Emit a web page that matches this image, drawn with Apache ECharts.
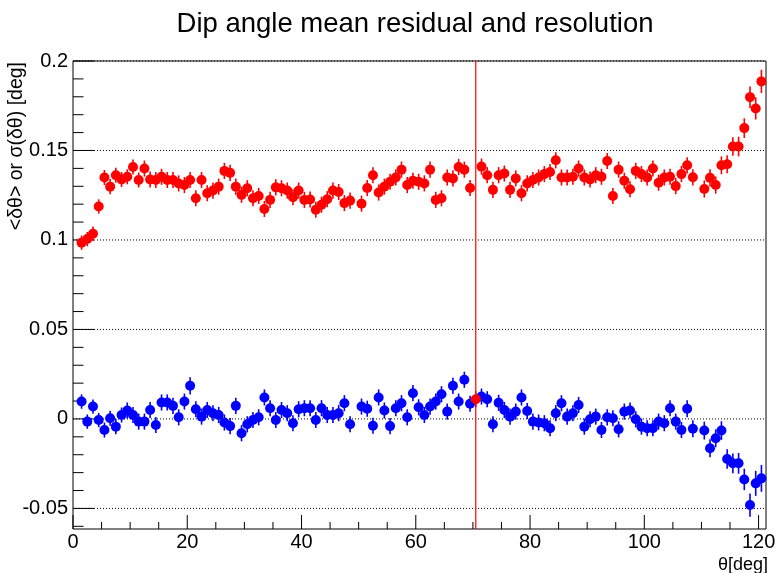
<!DOCTYPE html>
<html>
<head>
<meta charset="utf-8">
<script src="https://cdn.jsdelivr.net/npm/echarts@6/dist/echarts.min.js"></script>
<style>
  html, body { margin: 0; padding: 0; background: #ffffff; }
  #chart { width: 775px; height: 573px; }
</style>
</head>
<body>
<div id="chart"></div>
<script>
// Bin centres of the dip angle, in degrees
const theta = [
  1.5, 2.5, 3.5, 4.5, 5.5, 6.5, 7.5, 8.5, 9.5, 10.5,
  11.5, 12.5, 13.5, 14.5, 15.5, 16.5, 17.5, 18.5, 19.5, 20.5,
  21.5, 22.5, 23.5, 24.5, 25.5, 26.5, 27.5, 28.5, 29.5, 30.5,
  31.5, 32.5, 33.5, 34.5, 35.5, 36.5, 37.5, 38.5, 39.5, 40.5,
  41.5, 42.5, 43.5, 44.5, 45.5, 46.5, 47.5, 48.5, 49.5, 50.5,
  51.5, 52.5, 53.5, 54.5, 55.5, 56.5, 57.5, 58.5, 59.5, 60.5,
  61.5, 62.5, 63.5, 64.5, 65.5, 66.5, 67.5, 68.5, 69.5, 70.5,
  71.5, 72.5, 73.5, 74.5, 75.5, 76.5, 77.5, 78.5, 79.5, 80.5,
  81.5, 82.5, 83.5, 84.5, 85.5, 86.5, 87.5, 88.5, 89.5, 90.5,
  91.5, 92.5, 93.5, 94.5, 95.5, 96.5, 97.5, 98.5, 99.5, 100.5,
  101.5, 102.5, 103.5, 104.5, 105.5, 106.5, 107.5, 108.5, 109.5, 110.5,
  111.5, 112.5, 113.5, 114.5, 115.5, 116.5, 117.5, 118.5, 119.5, 120.5
];

// Mean residual <dθ> per bin (null = empty bin)
const meanRes = [
  0.0097, -0.0015, 0.0069, -0.0006, -0.0062, 0.0004, -0.0043, 0.0022, 0.0047, 0.0022,
  -0.0015, -0.0015, 0.0050, -0.0034, 0.0092, 0.0092, 0.0073, 0.0009, 0.0097, 0.0185,
  0.0054, 0.0013, 0.0050, 0.0032, 0.0022, -0.0020, -0.0040, 0.0073, -0.0080, -0.0030,
  -0.0006, 0.0009, 0.0120, 0.0060, -0.0006, 0.0050, 0.0032, -0.0024, 0.0054, 0.0060,
  0.0060, -0.0006, 0.0060, 0.0022, 0.0022, 0.0032, 0.0088, -0.0030, null, 0.0069,
  0.0057, -0.0038, 0.0120, 0.0047, -0.0040, 0.0060, 0.0088, 0.0009, 0.0144, 0.0065,
  0.0022, 0.0069, 0.0097, 0.0138, 0.0041, 0.0185, 0.0097, 0.0219, 0.0085, null,
  0.0125, 0.0110, -0.0030, 0.0090, 0.0050, 0.0013, 0.0041, 0.0120, 0.0044, -0.0015,
  -0.0020, -0.0024, -0.0052, 0.0032, 0.0088, 0.0013, 0.0032, 0.0078, -0.0043, -0.0002,
  0.0013, -0.0062, 0.0009, 0.0004, -0.0058, 0.0041, 0.0047, -0.0002, -0.0043, -0.0052,
  -0.0052, -0.0015, -0.0024, 0.0060, -0.0015, -0.0062, 0.0057, -0.0055, null, -0.0065,
  -0.0164, -0.0108, -0.0065, -0.0224, -0.0248, -0.0248, -0.0338, -0.0481, -0.0360, -0.0332
];
const meanErr = [
  0.0040, 0.0040, 0.0040, 0.0040, 0.0042, 0.0042, 0.0042, 0.0042, 0.0045, 0.0045,
  0.0045, 0.0045, 0.0045, 0.0045, 0.0045, 0.0045, 0.0045, 0.0045, 0.0045, 0.0048,
  0.0045, 0.0045, 0.0045, 0.0045, 0.0045, 0.0045, 0.0045, 0.0045, 0.0045, 0.0045,
  0.0045, 0.0045, 0.0045, 0.0045, 0.0045, 0.0045, 0.0045, 0.0045, 0.0045, 0.0045,
  0.0045, 0.0045, 0.0045, 0.0045, 0.0045, 0.0045, 0.0045, 0.0045, 0.0045, 0.0045,
  0.0045, 0.0045, 0.0045, 0.0045, 0.0045, 0.0045, 0.0045, 0.0045, 0.0045, 0.0045,
  0.0045, 0.0045, 0.0045, 0.0045, 0.0045, 0.0045, 0.0045, 0.0045, 0.0045, 0.0045,
  0.0045, 0.0045, 0.0045, 0.0045, 0.0045, 0.0045, 0.0045, 0.0045, 0.0045, 0.0045,
  0.0045, 0.0045, 0.0045, 0.0045, 0.0045, 0.0045, 0.0045, 0.0045, 0.0045, 0.0045,
  0.0045, 0.0045, 0.0045, 0.0045, 0.0045, 0.0045, 0.0045, 0.0045, 0.0045, 0.0045,
  0.0045, 0.0045, 0.0045, 0.0045, 0.0045, 0.0045, 0.0048, 0.0048, 0.0048, 0.0050,
  0.0050, 0.0050, 0.0052, 0.0055, 0.0055, 0.0058, 0.0060, 0.0065, 0.0070, 0.0075
];

// Resolution sigma(dθ) per bin (null = empty bin)
const sigmaRes = [
  0.0985, 0.1005, 0.1035, 0.1187, 0.1349, 0.1298, 0.1362, 0.1338, 0.1353, 0.1408,
  0.1335, 0.1399, 0.1338, 0.1335, 0.1353, 0.1335, 0.1335, 0.1316, 0.1307, 0.1335,
  0.1233, 0.1335, 0.1261, 0.1276, 0.1298, 0.1386, 0.1375, 0.1298, 0.1252, 0.1289,
  0.1233, 0.1246, 0.1173, 0.1224, 0.1294, 0.1289, 0.1276, 0.1239, 0.1276, 0.1224,
  0.1226, 0.1169, 0.1197, 0.1228, 0.1276, 0.1268, 0.1206, 0.1220, null, 0.1203,
  0.1290, 0.1362, 0.1265, 0.1298, 0.1325, 0.1349, 0.1393, 0.1307, 0.1331, 0.1325,
  0.1316, 0.1393, 0.1224, 0.1233, 0.1349, 0.1344, 0.1408, 0.1393, 0.1290, null,
  0.1410, 0.1362, 0.1280, 0.1362, 0.1371, 0.1280, 0.1344, 0.1261, 0.1316, 0.1335,
  0.1349, 0.1368, 0.1380, 0.1445, 0.1349, 0.1349, 0.1353, 0.1399, 0.1349, 0.1338,
  0.1362, 0.1353, 0.1441, 0.1246, 0.1393, 0.1331, 0.1283, 0.1386, 0.1368, 0.1349,
  0.1399, 0.1320, 0.1349, 0.1353, 0.1301, 0.1368, 0.1417, 0.1350, null, 0.1285,
  0.1347, 0.1307, 0.1417, 0.1423, 0.1522, 0.1522, 0.1625, 0.1798, 0.1735, 0.1886
];
const sigmaErr = [
  0.0040, 0.0040, 0.0040, 0.0040, 0.0042, 0.0042, 0.0042, 0.0042, 0.0042, 0.0042,
  0.0042, 0.0045, 0.0045, 0.0045, 0.0045, 0.0045, 0.0045, 0.0045, 0.0045, 0.0045,
  0.0045, 0.0045, 0.0045, 0.0045, 0.0045, 0.0045, 0.0045, 0.0045, 0.0045, 0.0045,
  0.0045, 0.0045, 0.0045, 0.0045, 0.0045, 0.0045, 0.0045, 0.0045, 0.0045, 0.0045,
  0.0045, 0.0045, 0.0045, 0.0045, 0.0045, 0.0045, 0.0045, 0.0045, 0.0045, 0.0045,
  0.0045, 0.0045, 0.0045, 0.0045, 0.0045, 0.0045, 0.0045, 0.0045, 0.0045, 0.0045,
  0.0045, 0.0045, 0.0045, 0.0045, 0.0045, 0.0045, 0.0045, 0.0045, 0.0045, 0.0045,
  0.0045, 0.0045, 0.0045, 0.0045, 0.0045, 0.0045, 0.0045, 0.0045, 0.0045, 0.0045,
  0.0045, 0.0045, 0.0045, 0.0045, 0.0045, 0.0045, 0.0045, 0.0045, 0.0045, 0.0045,
  0.0045, 0.0045, 0.0045, 0.0045, 0.0045, 0.0045, 0.0045, 0.0045, 0.0045, 0.0045,
  0.0045, 0.0045, 0.0045, 0.0045, 0.0045, 0.0045, 0.0045, 0.0045, 0.0045, 0.0048,
  0.0048, 0.0048, 0.0050, 0.0050, 0.0052, 0.0055, 0.0055, 0.0060, 0.0062, 0.0065
];

// Highlighted bin: the selected angle, drawn in red with a vertical marker line
const selectedTheta = [70.5];
const selectedMean = [0.0110];
const selectedErr = [0.0045];

// Axis ranges and tick values
const xRange = [0, 121.3];
const yRange = [-0.0615, 0.2];
const xMajorTicks = [0, 20, 40, 60, 80, 100, 120];
const xMinorTicks = [5, 10, 15, 25, 30, 35, 45, 50, 55, 65, 70, 75, 85, 90, 95, 105, 110, 115];
const yMajorTicks = [-0.05, 0, 0.05, 0.1, 0.15, 0.2];
const yMajorLabels = ['-0.05', '0', '0.05', '0.1', '0.15', '0.2'];
const yMinorTicks = [-0.06, -0.04, -0.03, -0.02, -0.01, 0.01, 0.02, 0.03, 0.04,
  0.06, 0.07, 0.08, 0.09, 0.11, 0.12, 0.13, 0.14, 0.16, 0.17, 0.18, 0.19];

const FONT = "'Liberation Sans', Arial, Helvetica, sans-serif";

function rows(vals, errs) {
  const out = [];
  for (let i = 0; i < theta.length; i++) {
    if (vals[i] !== null) out.push([theta[i], vals[i], errs[i]]);
  }
  return out;
}

// Filled circle marker with a vertical error bar
function markerRenderer(color) {
  return function (params, api) {
    const x = api.value(0), y = api.value(1), e = api.value(2);
    const c = api.coord([x, y]);
    const hi = api.coord([x, y + e]);
    const lo = api.coord([x, y - e]);
    return {
      type: 'group',
      children: [
        { type: 'line', shape: { x1: c[0], y1: hi[1], x2: c[0], y2: lo[1] },
          style: { stroke: color, lineWidth: 1.6 } },
        { type: 'circle', shape: { cx: c[0], cy: c[1], r: 5 },
          style: { fill: color } }
      ]
    };
  };
}

// Y major ticks: inward tick, label and dotted grid line
function yMajorRenderer(params, api) {
  const v = api.value(0);
  const l = api.coord([xRange[0], v]);
  const r = api.coord([xRange[1], v]);
  return {
    type: 'group',
    children: [
      { type: 'line', shape: { x1: l[0], y1: l[1], x2: r[0], y2: r[1] },
        style: { stroke: '#000', lineWidth: 1, lineDash: [1, 2] }, z2: 1 },
      { type: 'line', shape: { x1: l[0], y1: l[1], x2: l[0] + 21, y2: l[1] },
        style: { stroke: '#000', lineWidth: 1 }, z2: 2 },
      { type: 'text', x: l[0] - 5, y: l[1],
        style: { text: yMajorLabels[params.dataIndex], align: 'right', verticalAlign: 'middle',
                 font: '20px ' + FONT, fill: '#000' } }
    ]
  };
}

function yMinorRenderer(params, api) {
  const l = api.coord([xRange[0], api.value(0)]);
  return { type: 'line', shape: { x1: l[0], y1: l[1], x2: l[0] + 10.5, y2: l[1] },
           style: { stroke: '#000', lineWidth: 1 } };
}

function xMajorRenderer(params, api) {
  const v = api.value(0);
  const b = api.coord([v, yRange[0]]);
  return {
    type: 'group',
    children: [
      { type: 'line', shape: { x1: b[0], y1: b[1], x2: b[0], y2: b[1] - 14 },
        style: { stroke: '#000', lineWidth: 1 } },
      { type: 'text', x: b[0], y: b[1] + 3,
        style: { text: String(v), align: 'center', verticalAlign: 'top',
                 font: '20px ' + FONT, fill: '#000' } }
    ]
  };
}

function xMinorRenderer(params, api) {
  const b = api.coord([api.value(0), yRange[0]]);
  return { type: 'line', shape: { x1: b[0], y1: b[1], x2: b[0], y2: b[1] - 7 },
           style: { stroke: '#000', lineWidth: 1 } };
}

function vLineRenderer(params, api) {
  const t = api.value(0);
  const top = api.coord([t, yRange[1]]);
  const bot = api.coord([t, yRange[0]]);
  return { type: 'line', shape: { x1: top[0], y1: top[1], x2: bot[0], y2: bot[1] },
           style: { stroke: '#ff0000', lineWidth: 1.2 } };
}

const chart = echarts.init(document.getElementById('chart'), null, { renderer: 'canvas' });

chart.setOption({
  animation: false,
  backgroundColor: '#ffffff',
  title: {
    text: 'Dip angle mean residual and resolution',
    left: 410,
    top: 5,
    textAlign: 'center',
    textStyle: { fontFamily: FONT, fontSize: 27.5, fontWeight: 'normal', color: '#000' }
  },
  grid: {
    left: 73, top: 61, width: 693, height: 468,
    show: true, borderColor: '#000', borderWidth: 1, backgroundColor: 'transparent'
  },
  xAxis: { type: 'value', min: xRange[0], max: xRange[1], show: false },
  yAxis: { type: 'value', min: yRange[0], max: yRange[1], show: false },
  graphic: [
    { type: 'text', x: 17, y: 62, rotation: Math.PI / 2,
      style: { text: '<δθ> or σ(δθ) [deg]', align: 'right', verticalAlign: 'middle',
               font: '19.5px ' + FONT, fill: '#000' } },
    { type: 'text', x: 768, y: 565,
      style: { text: 'θ[deg]', align: 'right', verticalAlign: 'middle',
               font: '18px ' + FONT, fill: '#000' } }
  ],
  series: [
    { type: 'custom', name: 'yMajor', data: yMajorTicks.map(v => [v]), renderItem: yMajorRenderer, z: 1, silent: true },
    { type: 'custom', name: 'yMinor', data: yMinorTicks.map(v => [v]), renderItem: yMinorRenderer, z: 1, silent: true },
    { type: 'custom', name: 'xMajor', data: xMajorTicks.map(v => [v]), renderItem: xMajorRenderer, z: 1, silent: true },
    { type: 'custom', name: 'xMinor', data: xMinorTicks.map(v => [v]), renderItem: xMinorRenderer, z: 1, silent: true },
    { type: 'custom', name: 'sigma', data: rows(sigmaRes, sigmaErr), renderItem: markerRenderer('#ff0000'), z: 3 },
    { type: 'custom', name: 'mean', data: rows(meanRes, meanErr), renderItem: markerRenderer('#0000ff'), z: 3 },
    { type: 'custom', name: 'marker', data: selectedTheta.map(t => [t]), renderItem: vLineRenderer, z: 4, silent: true },
    { type: 'custom', name: 'selected',
      data: selectedTheta.map((t, i) => [t, selectedMean[i], selectedErr[i]]),
      renderItem: markerRenderer('#ff0000'), z: 5 }
  ]
});
</script>
</body>
</html>
